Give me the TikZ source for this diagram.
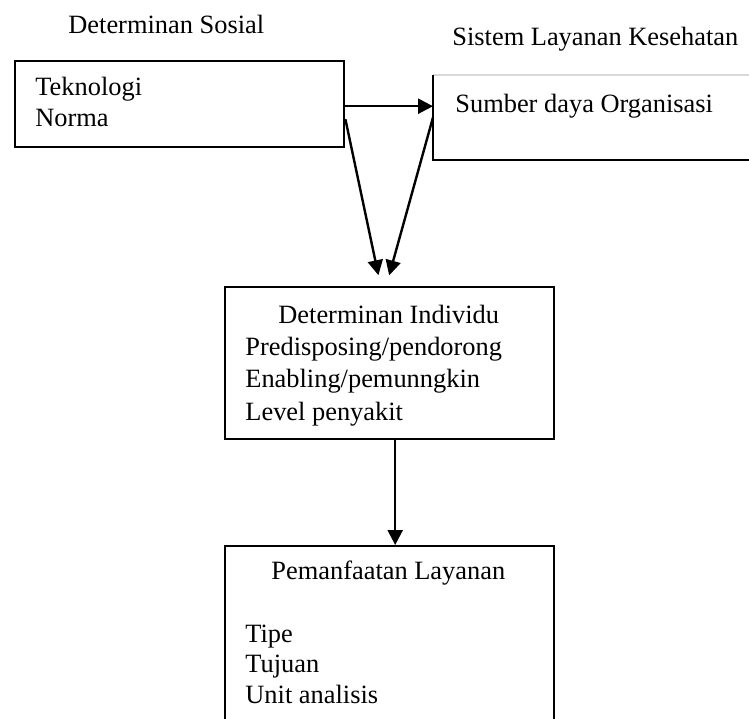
\documentclass[tikz,border=0pt]{standalone}
\usepackage{fontspec}
\setmainfont{Liberation Serif}
\usetikzlibrary{arrows.meta}
\begin{document}
\begin{tikzpicture}[x=0.5pt,y=-0.5pt,
  boxnode/.style={draw=black,line width=1.2pt,rectangle,inner sep=0pt,anchor=north west},
  plainbox/.style={draw=none,rectangle,inner sep=0pt,anchor=north west},
  txt/.style={anchor=base west,inner sep=0pt,font=\fontsize{13.2pt}{15pt}\selectfont},
  arr/.style={line width=1.2pt,-{Triangle[length=7.5pt,width=7.5pt]}}]
\useasboundingbox[fill=white] (0,0) rectangle (749,718);
% boxes
\node[boxnode,minimum width=164.5pt,minimum height=43pt] (box1) at (14,60) {};
\node[plainbox,minimum width=200pt,minimum height=42pt] (box2) at (433,75) {};
\draw[black!15,line width=0.8pt] (box2.north west) -- (box2.north east);
\draw[black,line width=1.2pt] (box2.north west) -- (box2.south west) -- (box2.south east);
\node[boxnode,minimum width=164.5pt,minimum height=76pt] (box3) at (224,286) {};
\node[boxnode,minimum width=164.5pt,minimum height=130pt] (box4) at (224,545) {};
% titles
\node[txt] (t1) at (68,33) {Determinan Sosial};
\node[txt] (t2) at (452,45) {Sistem Layanan Kesehatan};
% box texts
\node[txt] (b1a) at (35,95) {Teknologi};
\node[txt] (b1b) at (35,126) {Norma};
\node[txt] (b2a) at (455,112) {Sumber daya Organisasi};
\node[txt] (b3a) at (278,323) {Determinan Individu};
\node[txt] (b3b) at (245,355) {Predisposing/pendorong};
\node[txt] (b3c) at (245,387) {Enabling/pemunngkin};
\node[txt] (b3d) at (245,420) {Level penyakit};
\node[txt] (b4a) at (271,579) {Pemanfaatan Layanan};
\node[txt] (b4b) at (245,642) {Tipe};
\node[txt] (b4c) at (245,672) {Tujuan};
\node[txt] (b4d) at (245,703) {Unit analisis};
% connectors
\coordinate (s1) at ([yshift=-7.5pt]box1.east);
\coordinate (e1) at ([xshift=-4.5pt]box3.north);
\coordinate (e2) at ([xshift=-1.75pt]box3.north);
\draw[arr] ([yshift=-1pt]box1.east) -- ([yshift=-1pt]box1.east -| box2.west);
\draw[arr,shorten >=5.5pt] (s1) -- (e1);
\draw[arr,shorten >=5.5pt] (box2.west) -- (e2);
\draw[arr] ([xshift=2.75pt]box3.south) -- ([xshift=2.75pt]box4.north);
\end{tikzpicture}
\end{document}
